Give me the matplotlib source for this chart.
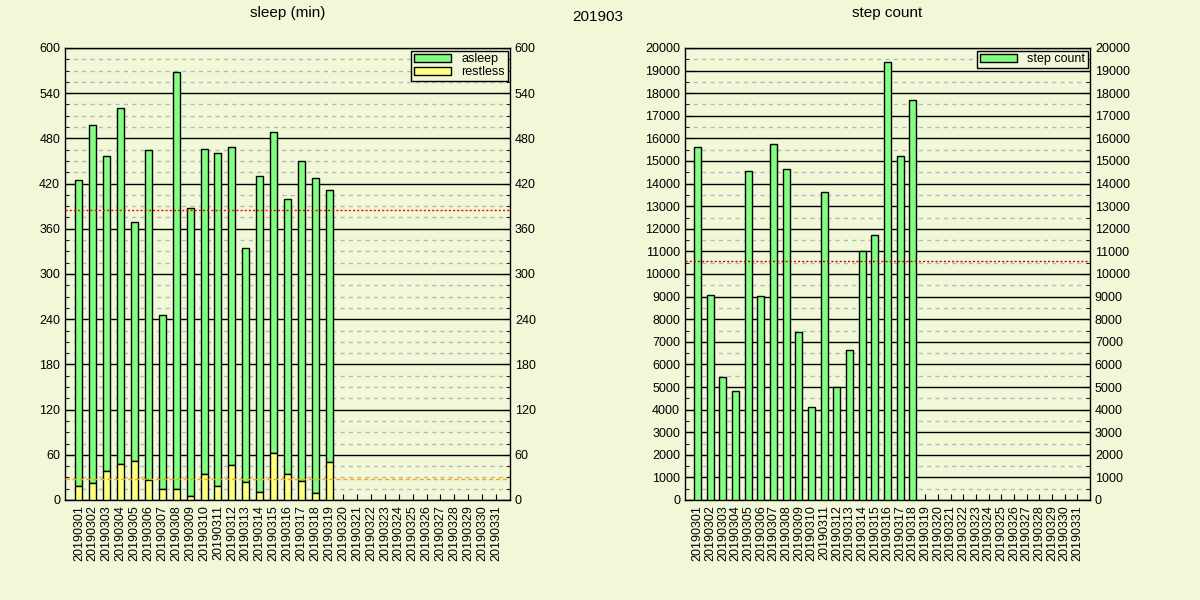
import matplotlib
matplotlib.use('Agg')
import matplotlib.pyplot as plt
from matplotlib.ticker import MultipleLocator
import numpy as np

plt.rcParams['font.family'] = ['Liberation Sans', 'DejaVu Sans']

dates = ['201903%02d' % d for d in range(1, 32)]

# sleep (min), 0301..0319
sleep_total = [425, 498, 457, 521, 369, 464, 245, 568, 388, 466, 460, 468, 334, 430, 489, 400, 450, 428, 412]
restless = [19, 23, 38, 48, 52, 26, 15, 15, 5, 34, 19, 46, 24, 11, 63, 34, 25, 9, 50]
sleep_mean = 385
restless_mean = 28

# step count, 0301..0318
steps = [15620, 9070, 5440, 4820, 14560, 9030, 15750, 14650, 7430, 4110,
         13630, 5000, 6640, 11020, 11730, 19380, 15220, 17700]
steps_mean = 10575

bg = '#f0f8d8'
green = '#80ff80'
yellow = '#ffff80'

fig = plt.figure(figsize=(12, 6), dpi=100, facecolor=bg)
ax1 = fig.add_axes([65/1200, 100/600, 445/1200, 452/600])
ax2 = fig.add_axes([685/1200, 100/600, 405/1200, 452/600])

def style(ax, ymax, major, minor):
    ax.set_facecolor(bg)
    ax.set_xlim(-1, 31)
    ax.set_ylim(0, ymax)
    ax.yaxis.set_major_locator(MultipleLocator(major))
    ax.yaxis.set_minor_locator(MultipleLocator(minor))
    ax.grid(which='major', axis='y', color='black', lw=1)
    ax.grid(which='minor', axis='y', color='#b8b8b8', lw=1, ls=(0, (3, 3)))
    ax.set_axisbelow(True)
    ax.set_xticks(range(31))
    ax.set_xticklabels(dates, rotation=90, fontsize=9)
    ax.tick_params(axis='y', which='both', left=True, right=True, labelleft=True,
                   labelright=True, direction='in', labelsize=9)
    ax.tick_params(axis='y', which='major', length=6)
    ax.tick_params(axis='y', which='minor', length=3)
    ax.tick_params(axis='x', direction='in', length=4, top=False)
    for s in ax.spines.values():
        s.set_linewidth(1)

style(ax1, 600, 60, 15)
x1 = np.arange(len(sleep_total))
asleep = np.array(sleep_total) - np.array(restless)
ax1.bar(x1, asleep, 0.5, bottom=restless, color=green, edgecolor='black', lw=1, label='asleep', zorder=3)
ax1.bar(x1, restless, 0.5, color=yellow, edgecolor='black', lw=1, label='restless', zorder=3)
ax1.axhline(sleep_mean, color='red', lw=1, ls=(0, (1.5, 1.5)), zorder=4)
ax1.axhline(restless_mean, color='orange', lw=1, ls=(0, (3, 2)), zorder=4)
ax1.legend(loc='upper right', fontsize=9, fancybox=False, edgecolor='black', framealpha=1,
           facecolor=bg, borderpad=0.2, handlelength=3, handleheight=0.6, labelspacing=0.1,
           borderaxespad=0.2, markerfirst=True)
ax1.set_title('sleep (min)', fontsize=11, pad=22)

style(ax2, 20000, 1000, 500)
x2 = np.arange(len(steps))
ax2.bar(x2, steps, 0.55, color=green, edgecolor='black', lw=1, label='step count', zorder=3)
ax2.axhline(steps_mean, color='#cc0000', lw=1, ls=(0, (1.5, 1.5)), zorder=4)
ax2.legend(loc='upper right', fontsize=9, fancybox=False, edgecolor='black', framealpha=1,
           facecolor=bg, borderpad=0.2, handlelength=3, handleheight=0.6,
           borderaxespad=0.2)
ax2.set_title('step count', fontsize=11, pad=22)

fig.text(598/1200, 1 - 17/600, '201903', ha='center', va='center', fontsize=11)

fig.savefig('out.png', dpi=100, facecolor=bg)
